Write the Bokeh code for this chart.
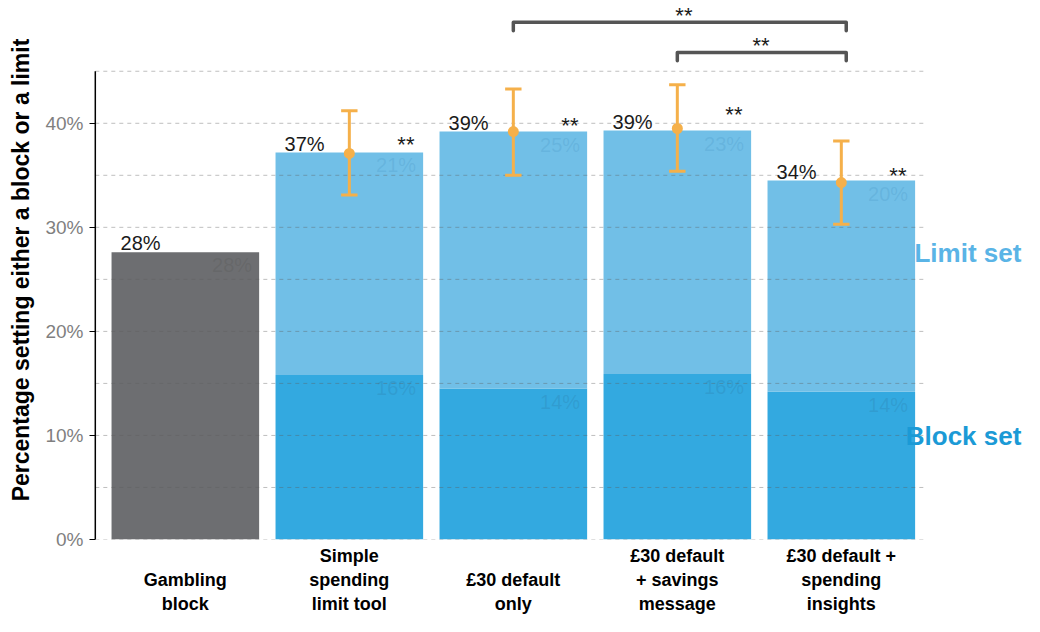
from bokeh.plotting import figure
from bokeh.models import Range1d, FixedTicker, PrintfTickFormatter, ColumnDataSource
from bokeh.core.properties import value
from bokeh.embed import file_html
from bokeh.resources import INLINE

# ---------------- data ----------------
categories = ["Gambling\nblock", "Simple\nspending\nlimit tool", "£30 default\nonly",
              "£30 default\n+ savings\nmessage", "£30 default +\nspending\ninsights"]
block_set = [27.6, 15.8, 14.5, 15.9, 14.2]          # lower segment (%)
limit_set = [0.0, 21.4, 24.7, 23.4, 20.3]           # upper segment (%)
total_labels = ["28%", "37%", "39%", "39%", "34%"]
block_labels = ["28%", "16%", "14%", "16%", "14%"]
limit_labels = ["", "21%", "25%", "23%", "20%"]
err_mid = [37.1, 39.2, 39.5, 34.3]                  # bars 2..5
err_lo = [33.1, 35.0, 35.4, 30.3]
err_hi = [41.2, 43.3, 43.7, 38.3]
star_y = [38.2, 40.0, 41.1, 35.2]                   # "**" beside bars 2..5
brackets = [(3, 5), (4, 5)]                          # pairwise comparisons
y_ticks = [0, 10, 20, 30, 40]
grid_vals = [0, 5, 10, 15, 20, 25, 30, 35, 40, 45]

FONT = value("Liberation Sans")
GREY_BAR = "#6d6e71"
LIGHT_BLUE = "#71bfe7"
DARK_BLUE = "#33a9e0"
ORANGE = "#f5b04a"

xs = [i + 1 for i in range(len(categories))]
tops = [b + l for b, l in zip(block_set, limit_set)]

p = figure(width=1024, height=616, output_backend="svg", toolbar_location=None,
           x_range=Range1d(0.44, 6.117), y_range=Range1d(0, 51.8),
           min_border_left=93, min_border_right=0, min_border_top=0, min_border_bottom=77)
p.outline_line_color = None
p.xgrid.visible = False
p.ygrid.visible = False

# bars
block_colors = [GREY_BAR] + [DARK_BLUE] * 4
p.vbar(x=xs, bottom=0, top=block_set, width=0.9, color=block_colors, line_color=None)
p.vbar(x=xs[1:], bottom=block_set[1:], top=tops[1:], width=0.9, color=LIGHT_BLUE, line_color=None)

# gridlines on top (dashed)
x_left, x_right = 0.451, 5.52
p.segment(x0=[x_left] * len(grid_vals), y0=grid_vals, x1=[x_right] * len(grid_vals), y1=grid_vals,
          line_color="#606060", line_alpha=0.4, line_width=1, line_dash="4 4")

# manual y axis line (0 - 45%)
p.segment(x0=[x_left], y0=[0], x1=[x_left], y1=[45], line_color="black", line_width=1.5)

# faint inner labels
p.text(x=[x + 0.407 for x in xs], y=[b - 1.25 for b in block_set], text=block_labels,
       text_font=FONT, text_font_size="20px", text_align="right", text_baseline="middle",
       text_color=["#505050"] + ["#2a6f98"] * 4, text_alpha=0.22)
p.text(x=[x + 0.407 for x in xs[1:]], y=[t - 1.25 for t in tops[1:]], text=limit_labels[1:],
       text_font=FONT, text_font_size="20px", text_align="right", text_baseline="middle",
       text_color="#3a88b8", text_alpha=0.2)

# total labels
p.text(x=[x - 0.395 for x in xs], y=[t + 0.85 for t in tops], text=total_labels,
       text_font=FONT, text_font_size="20px", text_align="left", text_baseline="middle",
       text_color="#1a1a1a")

# significance stars beside bars
p.text(x=[x + 0.345 for x in xs[1:]], y=[s - 0.24 for s in star_y], text=["**"] * 4,
       text_font=FONT, text_font_size="22px", text_align="center", text_baseline="middle",
       text_color="#1a1a1a")

# error bars
ex = xs[1:]
p.segment(x0=ex, y0=err_lo, x1=ex, y1=err_hi, line_color=ORANGE, line_width=3)
p.segment(x0=[x - 0.05 for x in ex], y0=err_hi, x1=[x + 0.05 for x in ex], y1=err_hi,
          line_color=ORANGE, line_width=3)
p.segment(x0=[x - 0.05 for x in ex], y0=err_lo, x1=[x + 0.05 for x in ex], y1=err_lo,
          line_color=ORANGE, line_width=3)
p.scatter(x=ex, y=err_mid, size=11, color=ORANGE, line_color=None)

# brackets
br_levels = [(48.9, 49.7), (46.0, 46.8)]
bx, by = [], []
for (a, b), (lo, hi) in zip(brackets, br_levels):
    bx.append([a, a, b + 0.03, b + 0.03])
    by.append([lo, hi, hi, lo])
bsrc = ColumnDataSource(dict(xs=bx, ys=by))
p.multi_line(xs="xs", ys="ys", source=bsrc, line_color="#555555", line_width=3.5,
             line_join="round", line_cap="round")
p.text(x=[4.04, 4.51], y=[50.38, 47.51], text=["**", "**"], text_font=FONT, text_font_size="22px",
       text_align="center", text_baseline="middle", text_color="#1a1a1a")

# side legend labels
p.text(x=[6.098], y=[27.5], text=["Limit set"], text_font=FONT, text_font_size="26px",
       text_font_style="bold", text_align="right", text_baseline="middle", text_color="#5ab4e6")
p.text(x=[6.098], y=[9.9], text=["Block set"], text_font=FONT, text_font_size="26px",
       text_font_style="bold", text_align="right", text_baseline="middle", text_color="#1b9ad6")

# axes
p.yaxis.ticker = FixedTicker(ticks=y_ticks)
p.yaxis.formatter = PrintfTickFormatter(format="%d%%")
p.yaxis.axis_line_color = None
p.yaxis.major_tick_in = 2
p.yaxis.major_tick_out = 4
p.yaxis.major_tick_line_color = "black"
p.yaxis.minor_tick_line_color = None
p.yaxis.major_label_text_font = "Liberation Sans"
p.yaxis.major_label_text_font_size = "19px"
p.yaxis.major_label_text_color = "#7f7f7f"
p.yaxis.major_label_standoff = 6
p.yaxis.axis_label = "Percentage setting either a block or a limit"
p.yaxis.axis_label_text_font = "Liberation Sans"
p.yaxis.axis_label_text_font_size = "23px"
p.yaxis.axis_label_text_font_style = "bold"
p.yaxis.axis_label_text_color = "black"
p.yaxis.axis_label_standoff = 8

# two-line labels get a leading blank line so they sit lower, like the reference
max_lines = max(c.count("\n") + 1 for c in categories)
x_labels = {}
for x, c in zip(xs, categories):
    n = c.count("\n") + 1
    x_labels[x] = "\n" * (max_lines - n) + c
p.xaxis.ticker = FixedTicker(ticks=xs)
p.xaxis.major_label_overrides = x_labels
p.xaxis.axis_line_color = None
p.xaxis.major_tick_line_color = None
p.xaxis.minor_tick_line_color = None
p.xaxis.major_label_text_font = "Liberation Sans"
p.xaxis.major_label_text_font_size = "18px"
p.xaxis.major_label_text_font_style = "bold"
p.xaxis.major_label_text_color = "black"
p.xaxis.major_label_standoff = 0

open("out.html", "w").write(file_html(p, INLINE))
